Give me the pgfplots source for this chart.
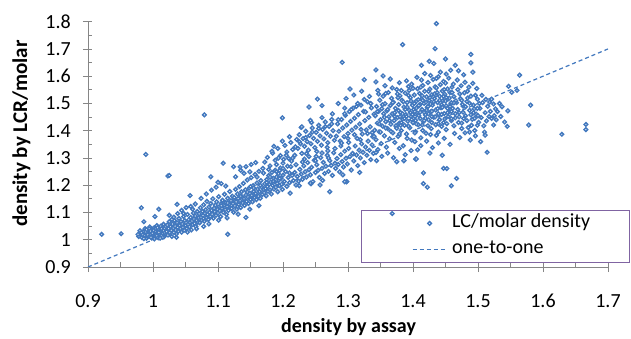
\documentclass[border=0pt]{standalone}
\usepackage{fontspec}
\setmainfont{Carlito}
\usepackage{pgfplots}
\pgfplotsset{compat=1.18}
\definecolor{ptblue}{RGB}{66,120,190}
\definecolor{axgray}{RGB}{134,134,134}
\definecolor{legpurple}{RGB}{128,100,162}
\pgfplotsset{
  marklegend/.style={legend image code/.code={\path[draw=none] (0bp,0bp) -- (44bp,0bp);
    \path[draw=none, mark=square*, mark size=1.3bp, mark options={rotate=45, draw=ptblue, fill=white, line width=1.4bp}] plot coordinates {(29bp,0bp)};}},
  linelegend/.style={legend image code/.code={\path[draw=none] (0bp,0bp) -- (12bp,0bp);
    \draw[ptblue, line width=1.2bp, dash pattern=on 4bp off 3bp] (12bp,0bp) -- (46bp,0bp);}}}
\begin{document}
\fontsize{20bp}{24bp}\selectfont
\begin{tikzpicture}
\useasboundingbox (-88bp,-72bp) rectangle (543bp,267bp);
\begin{axis}[
  at={(0,0)}, anchor=south west,
  scale only axis, width=520bp, height=245.3bp,
  xmin=0.9, xmax=1.7, ymin=0.9, ymax=1.8,
  axis lines*=left,
  axis line style={draw=axgray, line width=0.9bp},
  xtick={0.9,1,1.1,1.2,1.3,1.4,1.5,1.6,1.7},
  xticklabels={0.9,1,1.1,1.2,1.3,1.4,1.5,1.6,1.7},
  ytick={0.9,1,1.1,1.2,1.3,1.4,1.5,1.6,1.7,1.8},
  yticklabels={0.9,1,1.1,1.2,1.3,1.4,1.5,1.6,1.7,1.8},
  minor tick num=1,
  tick style={draw=axgray, line width=0.9bp},
  tick align=inside, major tick length=4.5bp, minor tick length=4.5bp,
  extra x ticks={0.9,1,1.1,1.2,1.3,1.4,1.5,1.6,1.7},
  extra x tick labels={},
  extra y ticks={0.9,1,1.1,1.2,1.3,1.4,1.5,1.6,1.7,1.8},
  extra y tick labels={},
  extra tick style={tick align=outside, major tick length=5bp},
  xticklabel style={inner sep=0pt, font=\fontsize{20bp}{24bp}\selectfont},
  yticklabel style={inner sep=0pt, font=\fontsize{20bp}{24bp}\selectfont},
  xticklabel shift=27bp,
  yticklabel shift=17bp,
  xlabel={density by assay},
  ylabel={density by LCR/molar},
  xlabel style={font=\fontsize{20bp}{24bp}\selectfont\bfseries, at={(axis description cs:0.501,-0.2466)}, anchor=center},
  ylabel style={font=\fontsize{21bp}{25bp}\selectfont\bfseries, at={(axis description cs:-0.1279,0.544)}, anchor=center},
  legend style={at={(rel axis cs:0.525,0.0163)}, anchor=south west,
    draw=legpurple, line width=1.3bp, fill=none,
    inner xsep=39bp, inner ysep=3.5bp, row sep=7bp, column sep=5bp,
    font=\fontsize{20bp}{24bp}\selectfont,
    nodes={inner sep=0pt, text height=14bp, text depth=5bp}},
  legend cell align=left,
]
\addplot[only marks, mark=square*, mark size=1.3bp,
  mark options={rotate=45, draw=ptblue, fill=white, line width=1.4bp},
  marklegend]
table {
x y
0.978 1.012
0.981 1.021
0.983 1.008
0.985 1.030
0.987 1.016
0.988 1.041
0.990 1.005
0.991 1.025
0.993 1.034
0.994 1.012
0.995 1.047
0.996 1.019
0.997 1.028
0.998 1.006
0.999 1.038
1.000 1.015
1.001 1.023
1.002 1.044
1.003 1.010
1.004 1.031
1.005 1.018
1.006 1.052
1.007 1.026
1.008 1.037
1.009 1.013
1.010 1.021
1.011 1.045
1.012 1.029
1.013 1.016
1.014 1.036
1.015 1.024
1.016 1.057
1.017 1.011
1.018 1.041
1.019 1.031
1.020 1.020
0.980 1.033
0.984 1.019
0.989 1.029
0.992 1.018
0.997 1.009
1.001 1.035
1.004 1.041
1.006 1.014
1.009 1.027
1.012 1.050
1.015 1.009
1.018 1.026
0.986 1.004
0.994 1.040
1.002 1.003
1.008 1.007
1.013 1.040
0.982 1.026
0.990 1.037
0.999 1.024
1.007 1.044
1.016 1.033
1.020 1.048
0.977 1.020
0.996 1.032
1.011 1.006
1.021 1.030
1.022 1.054
1.023 1.017
1.024 1.041
1.025 1.066
1.026 1.026
1.027 1.048
1.028 1.035
1.029 1.012
1.030 1.058
1.031 1.043
1.032 1.027
1.033 1.071
1.034 1.050
1.035 1.036
1.036 1.021
1.037 1.062
1.038 1.045
1.039 1.031
1.040 1.078
1.041 1.053
1.042 1.040
1.043 1.066
1.044 1.028
1.045 1.058
1.046 1.046
1.047 1.085
1.048 1.035
1.049 1.070
1.050 1.052
1.051 1.062
1.052 1.041
1.053 1.093
1.054 1.057
1.055 1.073
1.056 1.047
1.057 1.064
1.058 1.082
1.059 1.036
1.060 1.069
1.061 1.055
1.062 1.098
1.063 1.076
1.064 1.060
1.065 1.087
1.066 1.049
1.067 1.071
1.068 1.104
1.069 1.064
1.070 1.081
1.025 1.090
1.032 1.083
1.038 1.096
1.044 1.108
1.051 1.118
1.058 1.122
1.065 1.131
1.029 1.075
1.047 1.097
1.061 1.112
1.036 1.009
1.053 1.028
1.067 1.040
1.071 1.095
1.072 1.062
1.073 1.117
1.074 1.083
1.075 1.072
1.076 1.104
1.077 1.089
1.078 1.128
1.079 1.068
1.080 1.097
1.081 1.110
1.082 1.080
1.083 1.141
1.084 1.093
1.085 1.074
1.086 1.120
1.087 1.101
1.088 1.086
1.089 1.133
1.090 1.108
1.091 1.094
1.092 1.150
1.093 1.079
1.094 1.116
1.095 1.103
1.096 1.127
1.097 1.090
1.098 1.139
1.099 1.112
1.100 1.098
1.101 1.158
1.102 1.121
1.103 1.106
1.104 1.085
1.105 1.133
1.106 1.115
1.107 1.145
1.108 1.101
1.109 1.126
1.110 1.167
1.111 1.110
1.112 1.137
1.113 1.093
1.114 1.122
1.115 1.152
1.116 1.108
1.117 1.131
1.118 1.177
1.119 1.117
1.120 1.143
1.074 1.152
1.082 1.168
1.090 1.182
1.097 1.193
1.105 1.206
1.112 1.197
1.086 1.058
1.101 1.072
1.114 1.080
1.078 1.049
1.121 1.115
1.122 1.160
1.123 1.132
1.124 1.101
1.125 1.147
1.126 1.124
1.127 1.185
1.128 1.139
1.129 1.112
1.130 1.168
1.131 1.151
1.132 1.129
1.133 1.195
1.134 1.143
1.135 1.118
1.136 1.176
1.137 1.158
1.138 1.135
1.139 1.207
1.140 1.150
1.141 1.126
1.142 1.183
1.143 1.164
1.144 1.141
1.145 1.219
1.146 1.157
1.147 1.133
1.148 1.190
1.149 1.171
1.150 1.148
1.151 1.228
1.152 1.163
1.153 1.139
1.154 1.199
1.155 1.178
1.156 1.154
1.157 1.240
1.158 1.169
1.159 1.147
1.160 1.208
1.161 1.186
1.162 1.160
1.163 1.251
1.164 1.176
1.165 1.152
1.166 1.217
1.167 1.194
1.168 1.166
1.169 1.262
1.170 1.183
1.127 1.231
1.135 1.255
1.143 1.268
1.151 1.276
1.131 1.094
1.149 1.112
1.163 1.125
1.124 1.268
1.140 1.244
1.158 1.283
1.171 1.172
1.172 1.205
1.173 1.188
1.174 1.161
1.175 1.221
1.176 1.195
1.177 1.178
1.178 1.236
1.179 1.204
1.180 1.183
1.181 1.212
1.182 1.168
1.183 1.247
1.184 1.199
1.185 1.226
1.186 1.186
1.187 1.214
1.188 1.255
1.189 1.193
1.190 1.230
1.191 1.207
1.192 1.176
1.193 1.242
1.194 1.219
1.195 1.198
1.196 1.263
1.197 1.226
1.198 1.204
1.199 1.185
1.200 1.237
1.202 1.214
1.204 1.250
1.206 1.196
1.208 1.228
1.210 1.209
1.212 1.268
1.214 1.236
1.216 1.217
1.218 1.247
1.220 1.201
1.172 1.285
1.176 1.302
1.180 1.271
1.184 1.318
1.188 1.292
1.192 1.335
1.196 1.309
1.200 1.281
1.203 1.346
1.206 1.322
1.209 1.298
1.212 1.357
1.215 1.331
1.218 1.310
1.221 1.368
1.178 1.258
1.190 1.276
1.201 1.295
1.213 1.289
1.186 1.343
1.199 1.362
1.210 1.378
1.219 1.341
1.195 1.254
1.207 1.270
1.222 1.232
1.224 1.215
1.226 1.258
1.228 1.241
1.230 1.222
1.232 1.271
1.234 1.249
1.236 1.230
1.238 1.283
1.240 1.257
1.242 1.238
1.244 1.266
1.246 1.213
1.248 1.292
1.250 1.247
1.252 1.275
1.254 1.255
1.256 1.229
1.258 1.301
1.260 1.262
1.262 1.284
1.264 1.243
1.266 1.270
1.268 1.310
1.270 1.251
1.272 1.290
1.274 1.273
1.276 1.236
1.278 1.319
1.280 1.281
1.225 1.198
1.243 1.205
1.261 1.218
1.233 1.296
1.251 1.306
1.269 1.326
1.223 1.335
1.225 1.385
1.227 1.352
1.229 1.317
1.231 1.371
1.233 1.343
1.235 1.398
1.237 1.360
1.239 1.329
1.241 1.383
1.243 1.352
1.245 1.410
1.247 1.372
1.249 1.338
1.251 1.394
1.253 1.361
1.255 1.420
1.257 1.381
1.259 1.347
1.261 1.405
1.263 1.370
1.265 1.432
1.267 1.391
1.269 1.356
1.271 1.416
1.273 1.380
1.275 1.441
1.277 1.400
1.279 1.365
1.228 1.412
1.244 1.430
1.260 1.448
1.276 1.462
1.236 1.316
1.252 1.324
1.268 1.339
1.281 1.262
1.283 1.298
1.285 1.276
1.287 1.249
1.289 1.312
1.291 1.287
1.293 1.267
1.295 1.325
1.297 1.299
1.299 1.278
1.301 1.335
1.303 1.305
1.305 1.256
1.307 1.317
1.309 1.289
1.311 1.344
1.313 1.311
1.315 1.272
1.317 1.329
1.319 1.300
1.321 1.352
1.323 1.321
1.325 1.283
1.327 1.340
1.329 1.310
1.331 1.362
1.333 1.328
1.335 1.294
1.337 1.348
1.339 1.317
1.298 1.213
1.292 1.238
1.318 1.247
1.282 1.380
1.284 1.425
1.286 1.398
1.288 1.362
1.290 1.441
1.292 1.410
1.294 1.378
1.296 1.456
1.298 1.421
1.300 1.390
1.302 1.470
1.304 1.434
1.306 1.402
1.308 1.483
1.310 1.446
1.312 1.413
1.314 1.372
1.316 1.459
1.318 1.425
1.320 1.494
1.322 1.388
1.324 1.471
1.326 1.437
1.328 1.403
1.330 1.506
1.332 1.449
1.334 1.414
1.336 1.484
1.338 1.378
1.340 1.461
1.285 1.500
1.297 1.518
1.309 1.531
1.321 1.545
1.333 1.526
1.301 1.357
1.319 1.367
1.337 1.393
1.289 1.344
1.313 1.489
1.327 1.469
1.295 1.483
1.341 1.402
1.342 1.455
1.343 1.367
1.344 1.489
1.345 1.428
1.346 1.331
1.347 1.471
1.348 1.396
1.349 1.512
1.350 1.440
1.351 1.353
1.352 1.481
1.353 1.417
1.354 1.527
1.355 1.462
1.356 1.381
1.357 1.499
1.358 1.433
1.359 1.340
1.360 1.473
1.361 1.408
1.362 1.540
1.363 1.451
1.364 1.370
1.365 1.492
1.366 1.424
1.367 1.519
1.368 1.462
1.369 1.392
1.370 1.505
1.371 1.437
1.372 1.357
1.373 1.482
1.374 1.415
1.375 1.551
1.376 1.448
1.377 1.379
1.378 1.496
1.379 1.428
1.380 1.528
1.381 1.466
1.382 1.401
1.383 1.512
1.384 1.443
1.385 1.345
1.386 1.487
1.387 1.420
1.388 1.538
1.389 1.459
1.390 1.388
1.391 1.503
1.392 1.435
1.393 1.562
1.394 1.476
1.395 1.411
1.396 1.521
1.397 1.452
1.398 1.366
1.399 1.494
1.400 1.429
1.343 1.320
1.352 1.306
1.361 1.318
1.370 1.301
1.379 1.335
1.388 1.312
1.397 1.327
1.346 1.548
1.357 1.565
1.368 1.557
1.379 1.576
1.390 1.583
1.398 1.571
1.348 1.425
1.356 1.450
1.364 1.437
1.372 1.466
1.380 1.451
1.388 1.478
1.396 1.466
1.345 1.470
1.353 1.495
1.361 1.478
1.369 1.503
1.377 1.521
1.385 1.506
1.393 1.530
1.350 1.395
1.358 1.410
1.366 1.398
1.374 1.419
1.382 1.430
1.390 1.452
1.398 1.441
1.344 1.290
1.375 1.286
1.368 1.096
1.386 1.290
1.404 1.296
1.401 1.478
1.402 1.531
1.403 1.452
1.404 1.397
1.405 1.509
1.406 1.466
1.407 1.554
1.408 1.422
1.409 1.491
1.410 1.537
1.411 1.445
1.412 1.374
1.413 1.516
1.414 1.478
1.415 1.566
1.416 1.433
1.417 1.500
1.418 1.545
1.419 1.458
1.420 1.391
1.421 1.524
1.422 1.486
1.423 1.577
1.424 1.440
1.425 1.511
1.426 1.553
1.427 1.469
1.428 1.408
1.429 1.532
1.430 1.494
1.431 1.588
1.432 1.449
1.433 1.518
1.434 1.561
1.435 1.476
1.436 1.383
1.437 1.540
1.438 1.503
1.439 1.598
1.440 1.457
1.441 1.527
1.442 1.569
1.443 1.484
1.444 1.416
1.445 1.546
1.446 1.510
1.447 1.581
1.448 1.463
1.449 1.534
1.450 1.575
1.451 1.491
1.452 1.426
1.453 1.553
1.454 1.517
1.455 1.593
1.456 1.470
1.457 1.540
1.458 1.498
1.459 1.437
1.460 1.560
1.402 1.500
1.405 1.483
1.408 1.514
1.411 1.497
1.414 1.528
1.417 1.468
1.420 1.505
1.423 1.489
1.426 1.521
1.429 1.472
1.432 1.506
1.435 1.530
1.438 1.481
1.441 1.512
1.444 1.495
1.447 1.526
1.450 1.509
1.453 1.482
1.456 1.520
1.459 1.503
1.404 1.438
1.409 1.455
1.414 1.421
1.419 1.446
1.424 1.462
1.429 1.430
1.434 1.451
1.439 1.425
1.444 1.460
1.449 1.443
1.454 1.452
1.459 1.471
1.403 1.360
1.412 1.345
1.421 1.362
1.430 1.338
1.439 1.355
1.448 1.372
1.457 1.350
1.407 1.330
1.426 1.318
1.445 1.310
1.406 1.596
1.418 1.610
1.427 1.603
1.442 1.615
1.451 1.608
1.458 1.622
1.413 1.586
1.436 1.592
1.416 1.245
1.416 1.206
1.422 1.193
1.452 1.261
1.447 1.262
1.467 1.225
1.459 1.198
1.405 1.296
1.386 1.290
1.298 1.213
1.461 1.482
1.463 1.525
1.465 1.447
1.467 1.503
1.469 1.551
1.471 1.466
1.473 1.518
1.475 1.428
1.477 1.490
1.479 1.539
1.481 1.455
1.483 1.507
1.485 1.412
1.487 1.475
1.489 1.527
1.491 1.442
1.493 1.494
1.495 1.401
1.497 1.461
1.499 1.516
1.501 1.431
1.503 1.482
1.505 1.448
1.507 1.503
1.509 1.418
1.511 1.466
1.513 1.436
1.515 1.490
1.517 1.452
1.519 1.471
1.462 1.571
1.468 1.586
1.474 1.565
1.480 1.578
1.486 1.560
1.492 1.574
1.498 1.555
1.464 1.390
1.472 1.375
1.480 1.392
1.488 1.366
1.496 1.381
1.504 1.360
1.466 1.510
1.476 1.497
1.484 1.520
1.494 1.480
1.502 1.500
1.470 1.430
1.478 1.445
1.490 1.420
1.500 1.455
1.510 1.395
1.514 1.321
1.511 1.384
1.506 1.530
1.512 1.515
1.518 1.505
1.521 1.516
1.524 1.421
1.537 1.488
1.541 1.432
1.545 1.416
1.546 1.473
1.547 1.563
1.552 1.541
1.560 1.548
1.564 1.604
1.578 1.421
1.581 1.494
1.629 1.387
1.666 1.423
1.666 1.404
1.525 1.455
1.530 1.470
1.528 1.440
1.533 1.500
1.527 1.480
1.521 1.445
1.535 1.452
1.524 1.498
1.436 1.793
1.384 1.716
1.434 1.701
1.450 1.663
1.489 1.680
1.489 1.649
1.432 1.647
1.492 1.615
1.291 1.651
1.303 1.553
1.325 1.587
1.343 1.623
1.343 1.579
1.354 1.601
1.365 1.590
1.347 1.535
1.358 1.537
1.253 1.516
1.260 1.492
1.240 1.487
1.199 1.447
1.229 1.414
1.242 1.438
1.079 1.458
0.989 1.313
1.023 1.234
1.025 1.236
0.921 1.020
0.951 1.022
0.982 1.117
1.115 1.020
1.143 1.082
0.986 1.066
1.003 1.085
1.009 1.112
1.037 1.130
1.057 1.162
1.089 1.231
1.100 1.211
1.108 1.281
1.134 1.267
1.149 1.249
1.470 1.620
1.478 1.605
1.465 1.640
1.413 1.640
1.425 1.655
1.242 1.208
1.257 1.201
1.272 1.176
1.211 1.171
1.295 1.213
1.372 1.452
1.378 1.474
1.384 1.462
1.391 1.487
1.397 1.509
1.403 1.470
1.409 1.493
1.415 1.512
1.421 1.476
1.427 1.498
1.433 1.535
1.439 1.462
1.445 1.486
1.451 1.522
1.457 1.489
1.463 1.502
1.469 1.478
1.475 1.512
1.481 1.488
1.487 1.501
1.493 1.466
1.499 1.482
1.375 1.409
1.381 1.420
1.387 1.445
1.393 1.417
1.399 1.460
1.405 1.425
1.411 1.468
1.417 1.437
1.423 1.418
1.429 1.452
1.435 1.422
1.441 1.441
1.447 1.430
1.453 1.466
1.459 1.444
1.465 1.462
1.471 1.451
1.477 1.468
1.483 1.437
1.489 1.458
1.495 1.446
1.376 1.535
1.382 1.548
1.394 1.548
1.400 1.556
1.412 1.560
1.424 1.544
1.436 1.557
1.448 1.551
1.460 1.540
1.472 1.535
1.484 1.545
1.496 1.530
1.379 1.388
1.391 1.372
1.403 1.392
1.415 1.401
1.427 1.386
1.439 1.395
1.451 1.404
1.463 1.418
1.475 1.408
1.487 1.395
1.499 1.420
1.150 1.195
1.160 1.230
1.170 1.245
1.180 1.230
1.190 1.250
1.200 1.262
1.210 1.245
1.220 1.275
1.230 1.285
1.240 1.305
1.250 1.290
1.260 1.318
1.270 1.300
1.280 1.335
1.290 1.355
1.300 1.372
1.310 1.385
1.320 1.405
1.330 1.390
1.340 1.380
1.205 1.310
1.215 1.300
1.225 1.360
1.235 1.375
1.245 1.395
1.255 1.408
1.265 1.415
1.275 1.425
1.285 1.440
1.295 1.462
1.305 1.478
1.315 1.500
1.325 1.515
1.335 1.500
1.183 1.325
1.193 1.300
1.105 1.125
1.115 1.135
1.125 1.155
1.135 1.160
1.145 1.175
1.155 1.190
1.165 1.200
1.175 1.210
1.185 1.215
1.195 1.225
};
\addlegendentry{LC/molar density}
\addplot[ptblue, line width=1.2bp, dash pattern=on 4bp off 3bp, linelegend] coordinates {(0.9,0.9) (1.7,1.7)};
\addlegendentry{one-to-one}
\end{axis}
\end{tikzpicture}
\end{document}
